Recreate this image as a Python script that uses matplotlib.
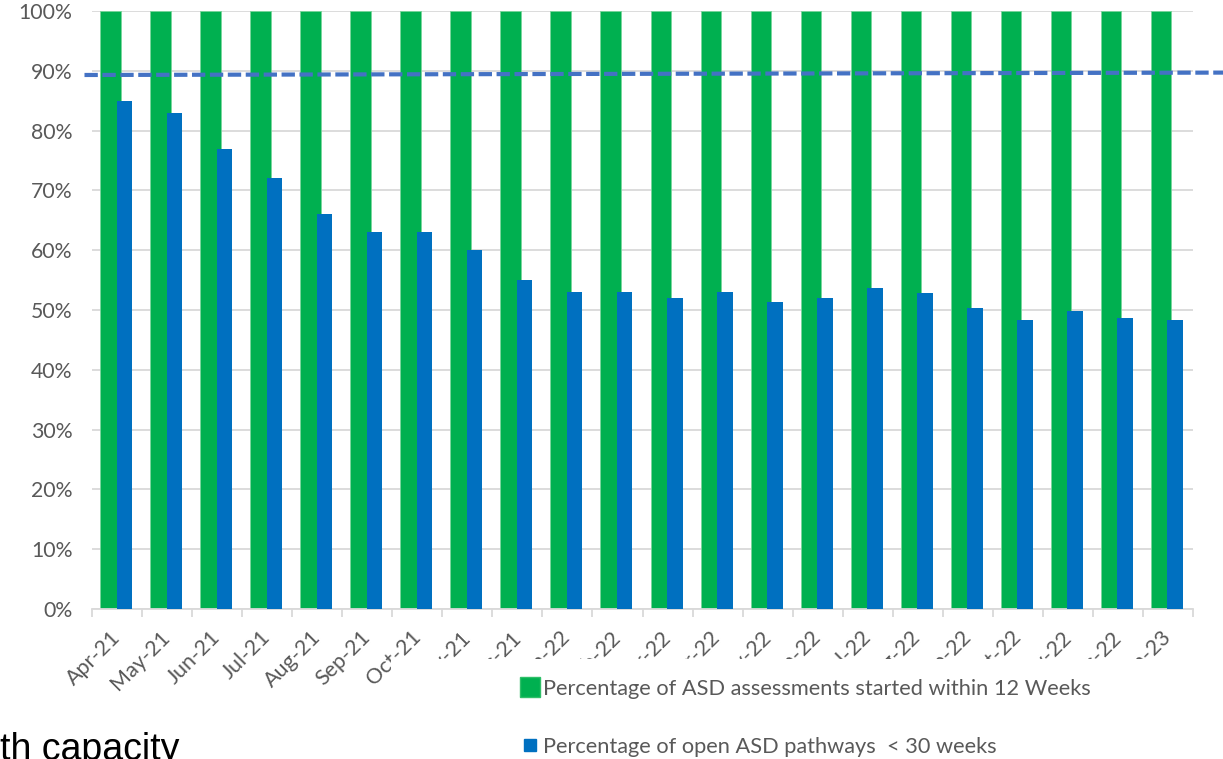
import matplotlib.pyplot as plt
from matplotlib.lines import Line2D
from matplotlib.patches import Rectangle
from matplotlib.ticker import FuncFormatter
from matplotlib.transforms import ScaledTranslation
import numpy as np

months = ['Apr-21', 'May-21', 'Jun-21', 'Jul-21', 'Aug-21', 'Sep-21', 'Oct-21',
          'Nov-21', 'Dec-21', 'Jan-22', 'Feb-22', 'Mar-22', 'Apr-22', 'May-22',
          'Jun-22', 'Jul-22', 'Aug-22', 'Sep-22', 'Oct-22', 'Nov-22', 'Dec-22',
          'Jan-23']
started_12wk = [100] * 22
open_30wk = [85, 83, 77, 72, 66, 63, 63, 60, 55, 53, 53, 52, 53, 51.4, 52,
             53.6, 52.8, 50.3, 48.3, 49.8, 48.6, 48.3]
target_x = [-0.65, 22.1]
target_y = [89.3, 89.7]

GREEN = '#00B050'
BLUE = '#0070C0'
GREY = '#595959'
GRID = '#D9D9D9'

plt.rcParams['font.family'] = ['Lato', 'DejaVu Sans']

fig = plt.figure(figsize=(12.23, 7.59), dpi=100)
ax = fig.add_axes([92 / 1223, 1 - 609 / 759, 1101 / 1223, 598 / 759])

x = np.arange(len(months))
ax.bar(x - 0.34, started_12wk, width=0.41, align='edge', color=GREEN,
       edgecolor='#7ad69c', linewidth=0.6, zorder=2)
ax.bar(x - 0.01, open_30wk, width=0.31, align='edge', color=BLUE, zorder=3)
ax.plot(target_x, target_y, color='#4472C4', lw=3, dashes=(3.2, 1.1),
        clip_on=False, zorder=4)

ax.set_xlim(-0.5, len(months) - 0.5)
ax.set_ylim(0, 100)
ax.set_yticks(range(0, 101, 10))
ax.yaxis.set_major_formatter(FuncFormatter(lambda v, p: f'{int(v)}%'))
ax.grid(axis='y', color=GRID, lw=1.3, zorder=0)
ax.set_axisbelow(True)

ax.set_xticks(x)
ax.set_xticklabels(months, rotation=45, ha='right', va='top',
                   rotation_mode='anchor')
ax.set_xticks(np.arange(-0.5, len(months), 1), minor=True)
ax.tick_params(axis='x', which='major', length=0, pad=21, labelsize=15.5,
               labelcolor=GREY)
ax.tick_params(axis='x', which='minor', length=6, color=GRID, width=1.3)
ax.tick_params(axis='y', length=0, pad=14, labelsize=15.3, labelcolor=GREY)
shift = ScaledTranslation(-0.07, 0.11, fig.dpi_scale_trans)
for lab in ax.get_xticklabels():
    lab.set_transform(lab.get_transform() + shift)
for s in ['top', 'right', 'left']:
    ax.spines[s].set_visible(False)
ax.spines['bottom'].set_color(GRID)
ax.spines['bottom'].set_linewidth(1.3)

# white legend area that hides the lower part of the month labels
fig.add_artist(Rectangle((391 / 1223, 0), 1, 1 - 659 / 759,
                         transform=fig.transFigure, facecolor='white',
                         edgecolor='none', zorder=4))

handles = [Line2D([], [], ls='none', marker='s', markersize=14.5,
                  markerfacecolor=GREEN, markeredgecolor='#2fbf68'),
           Line2D([], [], ls='none', marker='s', markersize=9,
                  markerfacecolor=BLUE, markeredgecolor=BLUE)]
labels = ['Percentage of ASD assessments started within 12 Weeks',
          'Percentage of open ASD pathways  < 30 weeks']
leg = fig.legend(handles, labels, loc='upper left',
                 bbox_to_anchor=(521 / 1223, 1 - 679 / 759),
                 frameon=False, fontsize=15.7, labelcolor=GREY,
                 handlelength=0.8, handletextpad=0.2, labelspacing=1.73,
                 borderpad=0, borderaxespad=0)
leg.set_zorder(6)

fig.text(0, 1 - 760 / 759, 'th capacity', fontsize=27, color='black',
         family='Liberation Sans', ha='left', va='baseline')

fig.savefig('out.png', dpi=100)
